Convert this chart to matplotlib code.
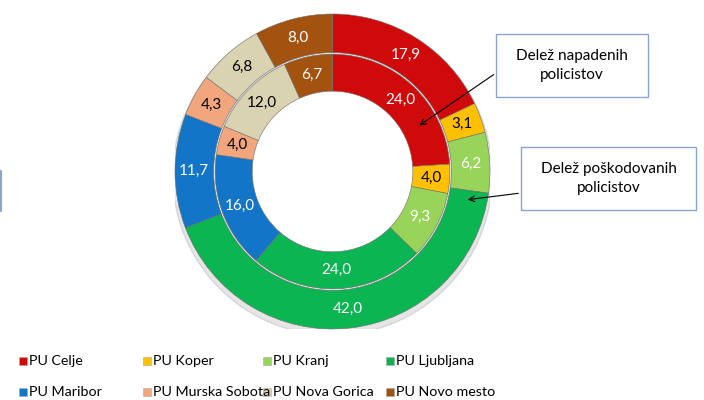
import numpy as np
import matplotlib.pyplot as plt
from matplotlib.patches import Rectangle, Wedge

plt.rcParams['font.family'] = ['Lato', 'DejaVu Sans']

# podatki po policijskih upravah
uprave = ["PU Celje", "PU Koper", "PU Kranj", "PU Ljubljana",
          "PU Maribor", "PU Murska Sobota", "PU Nova Gorica", "PU Novo mesto"]
napadeni = [24.0, 4.0, 9.3, 24.0, 16.0, 4.0, 12.0, 6.7]      # notranji krog
poskodovani = [17.9, 3.1, 6.2, 42.0, 11.7, 4.3, 6.8, 8.0]    # zunanji krog
barve = ["#D00A0A", "#FFC000", "#98D45A", "#0AB552",
         "#1275C8", "#F2A67E", "#D9D3B2", "#A3520F"]
crne_oznake = ["PU Koper", "PU Murska Sobota", "PU Nova Gorica"]

fig = plt.figure(figsize=(7.04, 4.0), dpi=100)
ax = fig.add_axes([175 / 704, (400 - 329) / 400, 315 / 704, 315 / 400])

# senca pod krogom (samo obroc)
ax.add_patch(Wedge((0.0, -0.025), 1.015, 0, 360, width=0.3, color="#000000",
                   alpha=0.10, zorder=0))


def obroc(vrednosti, r, w):
    wedges, _ = ax.pie(vrednosti, radius=r, colors=barve, startangle=90,
                       counterclock=False,
                       wedgeprops=dict(width=w, edgecolor="#6e6e6e", linewidth=0.4))
    for wd, v, ime in zip(wedges, vrednosti, uprave):
        kot = np.deg2rad((wd.theta1 + wd.theta2) / 2)
        rr = r - w / 2
        barva = "black" if ime in crne_oznake else "white"
        ax.text(rr * np.cos(kot), rr * np.sin(kot), f"{v:.1f}".replace(".", ","),
                ha="center", va="center", fontsize=11, color=barva)


obroc(poskodovani, 1.0, 0.245)
obroc(napadeni, 0.745, 0.235)
ax.set_xlim(-1, 1)
ax.set_ylim(-1, 1)


# oznake z okvirji
def okvir(x0, y0, x1, y1, besedilo):
    fig.add_artist(Rectangle((x0 / 704, 1 - y1 / 400), (x1 - x0) / 704, (y1 - y0) / 400,
                             transform=fig.transFigure, facecolor="white",
                             edgecolor="#8aa4d2", linewidth=1.0, zorder=5))
    fig.text((x0 + x1) / 2 / 704, 1 - (y0 + y1) / 2 / 400, besedilo, ha="center",
             va="center", fontsize=11, linespacing=1.5, zorder=6)


okvir(496, 34, 648, 97, "Delež napadenih\npolicistov")
okvir(521, 147, 696, 210, "Delež poškodovanih\npolicistov")

for (xa, ya), (xb, yb) in [((417, 127), (496, 73)), ((465, 200), (521, 193))]:
    ax.annotate("", xy=(xa / 704, 1 - ya / 400), xycoords="figure fraction",
                xytext=(xb / 704, 1 - yb / 400), textcoords="figure fraction",
                arrowprops=dict(arrowstyle="->", color="black", lw=0.8))

# odrezan okvir na levem robu
fig.add_artist(plt.Line2D([0.5 / 704, 0.5 / 704], [1 - 171 / 400, 1 - 211 / 400],
                          transform=fig.transFigure, color="#6f95c8", lw=1.2))

# legenda
stolpci = [23, 147, 267, 390]
vrstice = [361, 392]
for i, ime in enumerate(uprave):
    x = stolpci[i % 4]
    y = vrstice[i // 4]
    fig.add_artist(Rectangle((x / 704 - 4 / 704, 1 - y / 400 - 4 / 400), 8 / 704, 8 / 400,
                             transform=fig.transFigure, facecolor=barve[i],
                             edgecolor="#aaaaaa", linewidth=0.4))
    fig.text((x + 6) / 704, 1 - y / 400, ime, ha="left", va="center", fontsize=10.3)

fig.savefig("out.png", dpi=100)
